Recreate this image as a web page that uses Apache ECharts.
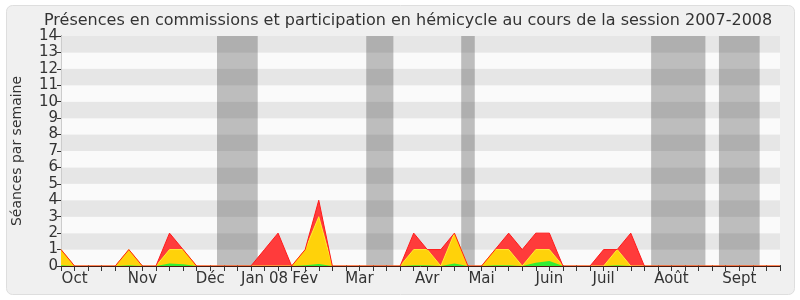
<!DOCTYPE html>
<html>
<head>
<meta charset="utf-8">
<script src="https://cdn.jsdelivr.net/npm/echarts@6/dist/echarts.min.js"></script>
<style>
html,body{margin:0;padding:0;background:#fff;}
#chart{width:800px;height:300px;}
</style>
</head>
<body>
<div id="chart"></div>
<script>
// Week index 0..53 (weekly points, session Oct 2007 - Sept 2008)
var weeks = [];
for (var k = 0; k < 54; k++) weeks.push(k);

// Month tick labels and the week index where each is centred
var monthLabels = ['Oct','Nov','Déc','Jan 08','Fév','Mar','Avr','Mai','Juin','Juil','Août','Sept'];
var monthWeeks  = [1, 6, 11, 15, 18, 22, 27, 31, 36, 40, 45, 50];

// Vacation weeks (shaded), as [firstWeek, lastWeek]
var vacations = [[12,14],[23,24],[30,30],[44,47],[49,51]];

// Total presences (commission + hemicycle) per week
var totalValues = [1,0,0,0,0,1,0,0,2,1, 0,0,0,0,0,1,2,0,1,4, 0,0,0,0,0,0,2,1,1,2, 0,0,1,2,1,2,2,0,0,0, 1,1,2,0,0,0,0,0,0,0, 0,0,0,0];
// Hemicycle presences per week
var hemiValues  = [1,0,0,0,0,1,0,0,1,1, 0,0,0,0,0,0,0,0,1,3, 0,0,0,0,0,0,1,1,0,2, 0,0,1,1,0,1,1,0,0,0, 0,1,0,0,0,0,0,0,0,0, 0,0,0,0];
// Hemicycle participations per week
var partValues  = [0.05,0,0,0,0,0.05,0,0,0.15,0.1, 0,0,0,0,0,0,0,0,0.05,0.12, 0,0,0,0,0,0,0.05,0.05,0,0.15, 0,0,0.05,0.05,0,0.2,0.3,0,0,0, 0,0.05,0,0,0,0,0,0,0,0, 0,0,0,0];

var yTicks = [0,1,2,3,4,5,6,7,8,9,10,11,12,13,14];

function pairs(vals){ return vals.map(function(v,i){ return [weeks[i], v]; }); }
var labelMap = {};
monthWeeks.forEach(function(w,i){ labelMap[w] = monthLabels[i]; });

var FONT = 'DejaVu Sans';
var chart = echarts.init(document.getElementById('chart'), null, {renderer:'canvas'});
chart.setOption({
  animation: false,
  backgroundColor: '#ffffff',
  textStyle: {fontFamily: FONT},
  graphic: [{
    type: 'rect', z: -10, silent: true,
    shape: {x: 6.5, y: 5.5, width: 788, height: 289, r: 6},
    style: {fill: '#f0f0f0', stroke: '#dedede', lineWidth: 1}
  }],
  title: {
    text: 'Présences en commissions et participation en hémicycle au cours de la session 2007-2008',
    left: 39, top: 8,
    textStyle: {fontFamily: FONT, fontSize: 16, fontWeight: 'normal', color: '#333'}
  },
  grid: {left: 61, right: 20, top: 36, bottom: 34},
  xAxis: [{
    type: 'value', min: 0, max: weeks.length - 1, interval: 1, z: 10,
    axisLine: {show: true, lineStyle: {color: '#4a1a10', width: 1}},
    axisTick: {show: true, length: 5, lineStyle: {color: '#333'}},
    axisLabel: {
      show: true, margin: 6, fontSize: 15, color: '#333', fontFamily: FONT,
      formatter: function(v){ return labelMap[v] || ''; }
    },
    splitLine: {show: false}
  }, {
    type: 'value', position: 'top', min: 0, max: weeks.length - 1, interval: 1,
    axisLine: {show: false},
    axisTick: {show: true, length: 1, lineStyle: {color: '#444'}},
    axisLabel: {show: false}, splitLine: {show: false}
  }],
  yAxis: [{
    type: 'value', min: 0, max: 14, interval: 1,
    name: 'Séances par semaine', nameLocation: 'middle', nameGap: 37, nameRotate: 90,
    nameTextStyle: {fontFamily: FONT, fontSize: 14, color: '#333'},
    axisLine: {show: true, lineStyle: {color: '#333'}},
    axisTick: {show: true, length: 4, lineStyle: {color: '#333'}},
    axisLabel: {fontSize: 15, color: '#333', margin: 3, fontFamily: FONT,
      formatter: function(v){ return yTicks.indexOf(v) >= 0 ? String(v) : ''; }},
    splitLine: {show: false},
    splitArea: {show: true, areaStyle: {color: ['#fafafa', '#e6e6e6']}}
  }, {
    type: 'value', position: 'right', min: 0, max: 14, interval: 1,
    axisLine: {show: true, lineStyle: {color: '#cccccc'}},
    axisTick: {show: false}, axisLabel: {show: false}, splitLine: {show: false}
  }],
  series: [{
    type: 'line', data: [], z: 1, silent: true,
    markArea: {
      silent: true,
      itemStyle: {color: 'rgba(50,50,50,0.3)'},
      data: vacations.map(function(v){ return [{xAxis: v[0] - 0.5}, {xAxis: v[1] + 0.5}]; })
    }
  }, {
    name: 'Présences', type: 'line', data: pairs(totalValues), z: 2,
    symbol: 'none', lineStyle: {width: 0}, areaStyle: {color: '#ff3b3b', opacity: 1}
  }, {
    name: 'Hémicycle', type: 'line', data: pairs(hemiValues), z: 3,
    symbol: 'none', lineStyle: {width: 1, color: '#ffee33'}, areaStyle: {color: '#ffd20a', opacity: 1}
  }, {
    name: 'Participations', type: 'line', data: pairs(partValues), z: 4,
    symbol: 'none', lineStyle: {width: 0}, areaStyle: {color: '#33ee33', opacity: 1}
  }, {
    name: 'Présences (ligne)', type: 'line', data: pairs(totalValues), z: 5,
    symbol: 'none', lineStyle: {width: 1, color: '#ff1a1a'}
  }]
});
</script>
</body>
</html>
